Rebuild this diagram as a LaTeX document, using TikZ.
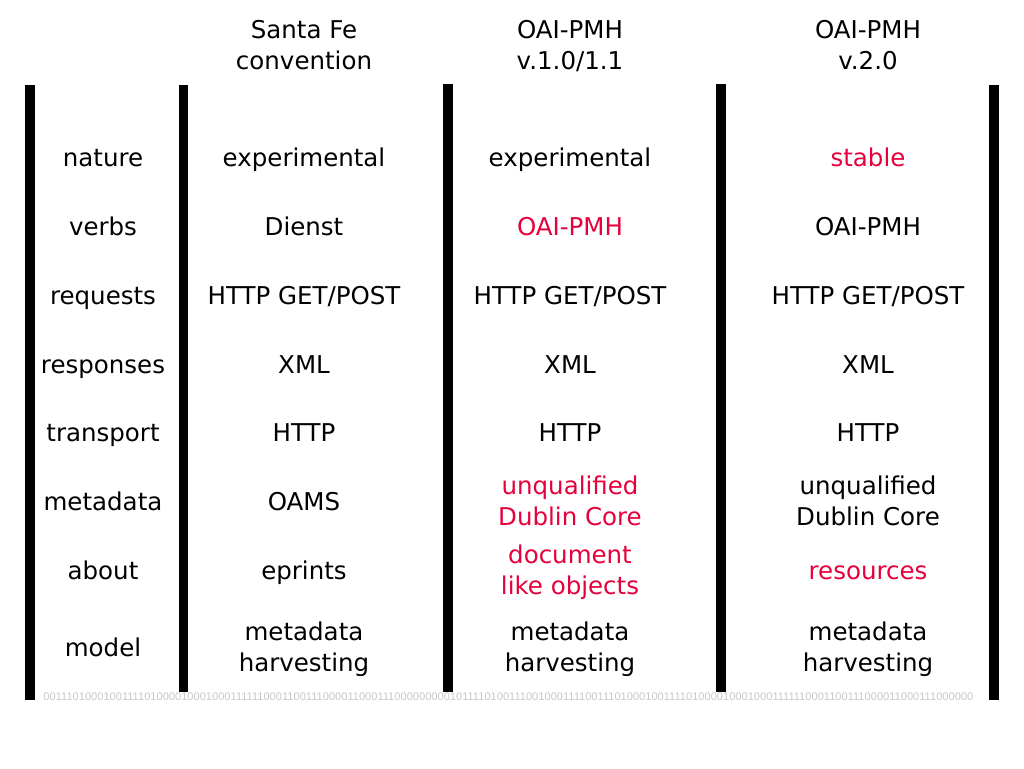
\documentclass[tikz,border=0pt]{standalone}
\usepackage{fontspec}
\setmainfont{DejaVu Sans}
\newfontfamily\binfont{Liberation Sans}
\definecolor{hired}{RGB}{230,0,60}
\definecolor{bingray}{RGB}{200,200,200}
\newcommand\cs{\rule[-6.5pt]{0pt}{31pt}}
\tikzset{
  cell/.style={inner sep=0pt, align=center, font=\fontsize{24.5}{31}\selectfont},
  hot/.style={cell, text=hired},
  bar/.style={fill=black, draw=none},
}
\begin{document}
\begin{tikzpicture}[x=1pt,y=-1pt]
\useasboundingbox (0,0) rectangle (1024,768);
\fill[white] (0,0) rectangle (1024,768);
% vertical bars
\path[bar] (25,85) rectangle (35,700);
\path[bar] (179,85) rectangle (188,692);
\path[bar] (443,84) rectangle (453,692);
\path[bar] (716,84) rectangle (726,692);
\path[bar] (989,85) rectangle (999,700);
% headers
\node[cell] (h1) at (304,44.5) {\cs Santa Fe\\\cs convention};
\node[cell] (h2) at (570,44.5) {\cs OAI-PMH\\\cs v.1.0/1.1};
\node[cell] (h3) at (868,44.5) {\cs OAI-PMH\\\cs v.2.0};
% row labels
\node[cell] (l1) at (103,157) {\cs nature};
\node[cell] (l2) at (103,226) {\cs verbs};
\node[cell] (l3) at (103,295) {\cs requests};
\node[cell] (l4) at (103,364) {\cs responses};
\node[cell] (l5) at (103,432) {\cs transport};
\node[cell] (l6) at (103,501) {\cs metadata};
\node[cell] (l7) at (103,570) {\cs about};
\node[cell] (l8) at (103,647) {\cs model};
% Santa Fe
\node[cell] (a1) at (304,157) {\cs experimental};
\node[cell] (a2) at (304,226) {\cs Dienst};
\node[cell] (a3) at (304,295) {\cs HTTP GET/POST};
\node[cell] (a4) at (304,364) {\cs XML};
\node[cell] (a5) at (304,432) {\cs HTTP};
\node[cell] (a6) at (304,501) {\cs OAMS};
\node[cell] (a7) at (304,570) {\cs eprints};
\node[cell] (a8) at (304,647) {\cs metadata\\\cs harvesting};
% OAI-PMH 1.0/1.1
\node[cell] (b1) at (570,157) {\cs experimental};
\node[hot]  (b2) at (570,226) {\cs OAI-PMH};
\node[cell] (b3) at (570,295) {\cs HTTP GET/POST};
\node[cell] (b4) at (570,364) {\cs XML};
\node[cell] (b5) at (570,432) {\cs HTTP};
\node[hot]  (b6) at (570,501) {\cs unqualified\\\cs Dublin Core};
\node[hot]  (b7) at (570,570) {\cs document\\\cs like objects};
\node[cell] (b8) at (570,647) {\cs metadata\\\cs harvesting};
% OAI-PMH 2.0
\node[hot]  (c1) at (868,157) {\cs stable};
\node[cell] (c2) at (868,226) {\cs OAI-PMH};
\node[cell] (c3) at (868,295) {\cs HTTP GET/POST};
\node[cell] (c4) at (868,364) {\cs XML};
\node[cell] (c5) at (868,432) {\cs HTTP};
\node[cell] (c6) at (868,501) {\cs unqualified\\\cs Dublin Core};
\node[hot]  (c7) at (868,570) {\cs resources};
\node[cell] (c8) at (868,647) {\cs metadata\\\cs harvesting};
% binary strip
\node[inner sep=0pt, text=bingray, font=\binfont\fontsize{11.1}{13}\selectfont] (bin) at (508.5,697)
  {001110100010011110100001000100011111100011001110000110001110000000001011110100111001000111100111010001001111010000100010001111110001100111000011000111000000};
\end{tikzpicture}
\end{document}
